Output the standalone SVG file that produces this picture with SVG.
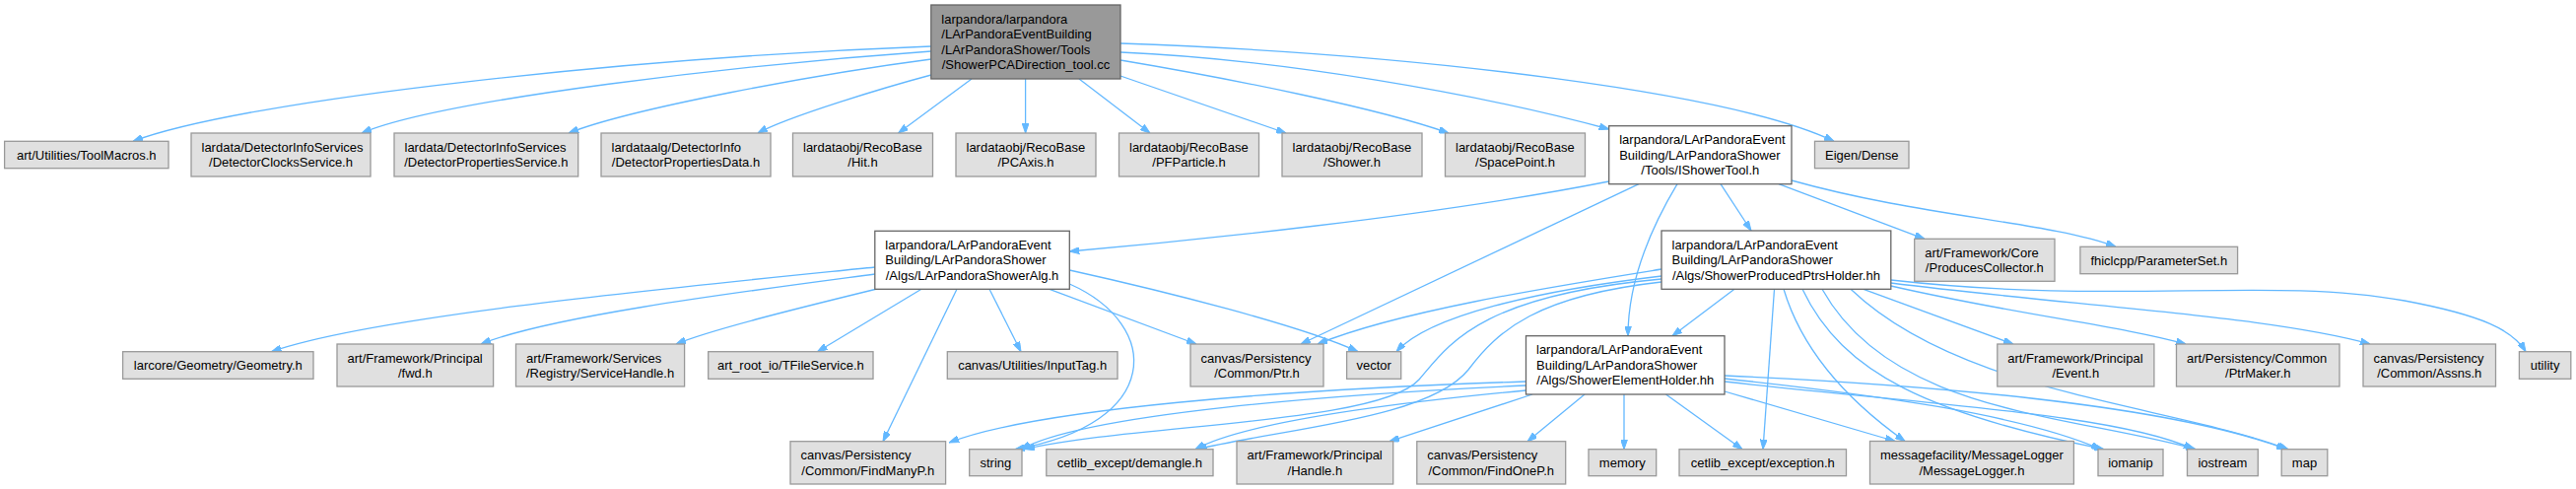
<svg xmlns="http://www.w3.org/2000/svg" width="2614" height="496" viewBox="0 0 2614 496">
<style>
.g rect{fill:#e0e0e0;stroke:#999999;stroke-width:1.3}
.w rect{fill:#ffffff;stroke:#666666;stroke-width:1.3}
.r rect{fill:#999999;stroke:#666666;stroke-width:1.3}
text{font-family:"Liberation Sans",Arial,Helvetica,sans-serif;font-size:13px;fill:#000000}
.c{text-anchor:middle}
#edges path{fill:none;stroke:#63b8ff;stroke-width:1.3;marker-end:url(#a)}
</style>
<defs>
<marker id="a" viewBox="0 0 10 7" refX="10" refY="3.5" markerWidth="10" markerHeight="7" markerUnits="userSpaceOnUse" orient="auto"><path d="M0,0L10,3.5L0,7z" fill="#63b8ff" stroke="#63b8ff" stroke-width="1"/></marker>
</defs>
<rect width="2614" height="496" fill="#ffffff"/>
<g id="edges">
<path d="M945,47 C650,58 250,100 135,143.3"/>
<path d="M945,52 C760,65 450,100 367,135"/>
<path d="M945,60 C830,75 640,110 577,135"/>
<path d="M945,76 C900,88 800,118 769,135"/>
<path d="M986,80 L911.5,135"/>
<path d="M1040.6,80 L1040.6,135"/>
<path d="M1095,80 L1167,135"/>
<path d="M1137,77 L1305,135"/>
<path d="M1137,61 C1250,80 1400,110 1470,135"/>
<path d="M1137,53 C1300,60 1500,95 1632.7,131"/>
<path d="M1137,44 C1450,55 1760,95 1861,143.3"/>
<path d="M1632.7,184 C1450,220 1200,245 1085.3,255"/>
<path d="M1663,186.7 L1320,349"/>
<path d="M1702,186.7 C1670,240 1652,290 1652,340.7"/>
<path d="M1746,186.7 L1777,234"/>
<path d="M1805,186.7 L1953,242.3"/>
<path d="M1818,183 C1950,220 2080,225 2147,250.3"/>
<path d="M887.8,271 C700,290 380,320 275.5,356.7"/>
<path d="M887.8,278 C760,295 560,320 488,349"/>
<path d="M890,293 C800,315 720,335 686,349"/>
<path d="M935,293.3 L829.5,356.7"/>
<path d="M971,293.3 L896,447.7"/>
<path d="M1004,293.3 L1036,356.7"/>
<path d="M1065,293.3 L1214,349"/>
<path d="M1085.3,274 C1180,295 1320,330 1378,356.7"/>
<path d="M1085.3,288 C1180,330 1180,430 1030,455.7"/>
<path d="M1686,273 C1580,290 1420,315 1337,349"/>
<path d="M1686,280 C1560,295 1450,320 1417,356.7"/>
<path d="M1686,283 C1500,300 1470,350 1440,385 C1400,430 1150,430 1040,455.7"/>
<path d="M1686,286 C1560,300 1520,335 1490,375 C1450,425 1300,435 1215,455.7"/>
<path d="M1760,293.3 L1697,340.7"/>
<path d="M1800.5,293.3 L1789,455.7"/>
<path d="M1810,293.3 C1830,360 1880,410 1933,447.5"/>
<path d="M1829,293.3 C1870,380 1960,420 2135,455.7"/>
<path d="M1849,293.3 C1920,420 2100,420 2228,455.7"/>
<path d="M1878,293.3 C1990,400 2200,410 2322,455.7"/>
<path d="M1891,293.3 L2043,349"/>
<path d="M1918.8,290 C2050,320 2150,330 2218,349"/>
<path d="M1918.8,287 C2100,310 2300,320 2405,349"/>
<path d="M1918.8,284 C2150,310 2300,280 2440,305 C2520,320 2550,335 2563,356.7"/>
<path d="M1548.5,387 C1300,395 1050,415 963,449"/>
<path d="M1548.5,391 C1350,400 1100,420 1036,455.7"/>
<path d="M1548.5,396 C1400,410 1260,430 1213,455.7"/>
<path d="M1555,400 L1410,447.7"/>
<path d="M1608,400 L1550,447.7"/>
<path d="M1648,400 L1648,455.7"/>
<path d="M1690.5,400 L1768,455.7"/>
<path d="M1750,397 L1923,447.5"/>
<path d="M1750,384 C1900,400 2050,420 2132,455.7"/>
<path d="M1750,387 C1950,410 2150,420 2226,455.7"/>
<path d="M1750,381 C1950,390 2200,410 2320,455.7"/>
</g>
<g id="root" class="r"><rect x="944.8" y="5" width="192.2" height="75"/><text x="955.3" y="23.5">larpandora/larpandora</text><text x="955.3" y="39">/LArPandoraEventBuilding</text><text x="955.3" y="54.5">/LArPandoraShower/Tools</text><text class="c" x="1040.9" y="70">/ShowerPCADirection_tool.cc</text></g>
<g id="n_toolmacros" class="g"><rect x="4.6" y="143.3" width="166.4" height="27.4"/><text class="c" x="87.8" y="161.6">art/Utilities/ToolMacros.h</text></g>
<g id="n_clocks" class="g"><rect x="194" y="135" width="182" height="44"/><text x="204.5" y="153.5">lardata/DetectorInfoServices</text><text class="c" x="285" y="169">/DetectorClocksService.h</text></g>
<g id="n_propservice" class="g"><rect x="400" y="135" width="186.7" height="44"/><text x="410.5" y="153.5">lardata/DetectorInfoServices</text><text class="c" x="493.35" y="169">/DetectorPropertiesService.h</text></g>
<g id="n_propdata" class="g"><rect x="610" y="135" width="172" height="44"/><text x="620.5" y="153.5">lardataalg/DetectorInfo</text><text class="c" x="696" y="169">/DetectorPropertiesData.h</text></g>
<g id="n_hit" class="g"><rect x="804.5" y="135" width="142" height="44"/><text x="815" y="153.5">lardataobj/RecoBase</text><text class="c" x="875.5" y="169">/Hit.h</text></g>
<g id="n_pcaxis" class="g"><rect x="970" y="135" width="142" height="44"/><text x="980.5" y="153.5">lardataobj/RecoBase</text><text class="c" x="1041" y="169">/PCAxis.h</text></g>
<g id="n_pfparticle" class="g"><rect x="1135.5" y="135" width="142" height="44"/><text x="1146" y="153.5">lardataobj/RecoBase</text><text class="c" x="1206.5" y="169">/PFParticle.h</text></g>
<g id="n_shower" class="g"><rect x="1301" y="135" width="142" height="44"/><text x="1311.5" y="153.5">lardataobj/RecoBase</text><text class="c" x="1372" y="169">/Shower.h</text></g>
<g id="n_spacepoint" class="g"><rect x="1466.5" y="135" width="142" height="44"/><text x="1477" y="153.5">lardataobj/RecoBase</text><text class="c" x="1537.5" y="169">/SpacePoint.h</text></g>
<g id="n_ishowertool" class="w"><rect x="1632.7" y="127.7" width="185.3" height="59"/><text x="1643.2" y="146.2">larpandora/LArPandoraEvent</text><text x="1643.2" y="161.7">Building/LArPandoraShower</text><text class="c" x="1725.35" y="177.2">/Tools/IShowerTool.h</text></g>
<g id="n_eigen" class="g"><rect x="1841.5" y="143.3" width="95.5" height="27.4"/><text class="c" x="1889.25" y="161.6">Eigen/Dense</text></g>
<g id="n_showeralg" class="w"><rect x="887.8" y="234.3" width="197.5" height="59"/><text x="898.3" y="252.8">larpandora/LArPandoraEvent</text><text x="898.3" y="268.3">Building/LArPandoraShower</text><text class="c" x="986.55" y="283.8">/Algs/LArPandoraShowerAlg.h</text></g>
<g id="n_producedptrs" class="w"><rect x="1686" y="234" width="232.8" height="59.3"/><text x="1696.5" y="252.5">larpandora/LArPandoraEvent</text><text x="1696.5" y="268">Building/LArPandoraShower</text><text class="c" x="1802.4" y="283.5">/Algs/ShowerProducedPtrsHolder.hh</text></g>
<g id="n_producescollector" class="g"><rect x="1942.7" y="242.3" width="142.3" height="43"/><text x="1953.2" y="260.8">art/Framework/Core</text><text class="c" x="2013.85" y="276.3">/ProducesCollector.h</text></g>
<g id="n_parameterset" class="g"><rect x="2110.9" y="250.3" width="159.7" height="27.4"/><text class="c" x="2190.75" y="268.6">fhiclcpp/ParameterSet.h</text></g>
<g id="n_geometry" class="g"><rect x="124.6" y="356.7" width="193.4" height="27.6"/><text class="c" x="221.3" y="375">larcore/Geometry/Geometry.h</text></g>
<g id="n_fwd" class="g"><rect x="342" y="349" width="158.6" height="43"/><text x="352.5" y="367.5">art/Framework/Principal</text><text class="c" x="421.3" y="383">/fwd.h</text></g>
<g id="n_servicehandle" class="g"><rect x="523.5" y="349" width="171.1" height="43"/><text x="534" y="367.5">art/Framework/Services</text><text class="c" x="609.05" y="383">/Registry/ServiceHandle.h</text></g>
<g id="n_tfileservice" class="g"><rect x="718.7" y="356.7" width="167.3" height="27.6"/><text class="c" x="802.35" y="375">art_root_io/TFileService.h</text></g>
<g id="n_inputtag" class="g"><rect x="961.3" y="356.7" width="172.7" height="27.6"/><text class="c" x="1047.65" y="375">canvas/Utilities/InputTag.h</text></g>
<g id="n_ptr" class="g"><rect x="1208" y="349" width="135" height="43"/><text x="1218.5" y="367.5">canvas/Persistency</text><text class="c" x="1275.5" y="383">/Common/Ptr.h</text></g>
<g id="n_vector" class="g"><rect x="1366.6" y="356.7" width="55.1" height="27.6"/><text class="c" x="1394.15" y="375">vector</text></g>
<g id="n_elementholder" class="w"><rect x="1548.5" y="340.7" width="201.5" height="59.3"/><text x="1559" y="359.2">larpandora/LArPandoraEvent</text><text x="1559" y="374.7">Building/LArPandoraShower</text><text class="c" x="1649.25" y="390.2">/Algs/ShowerElementHolder.hh</text></g>
<g id="n_event" class="g"><rect x="2026.8" y="349" width="159.1" height="43"/><text x="2037.3" y="367.5">art/Framework/Principal</text><text class="c" x="2106.35" y="383">/Event.h</text></g>
<g id="n_ptrmaker" class="g"><rect x="2208.5" y="349" width="165.5" height="43"/><text x="2219" y="367.5">art/Persistency/Common</text><text class="c" x="2291.25" y="383">/PtrMaker.h</text></g>
<g id="n_assns" class="g"><rect x="2398" y="349" width="134.5" height="43"/><text x="2408.5" y="367.5">canvas/Persistency</text><text class="c" x="2465.25" y="383">/Common/Assns.h</text></g>
<g id="n_utility" class="g"><rect x="2556.4" y="356.7" width="52.4" height="27.6"/><text class="c" x="2582.6" y="375">utility</text></g>
<g id="n_findmanyp" class="g"><rect x="802" y="447.7" width="157.6" height="43.3"/><text x="812.5" y="466.2">canvas/Persistency</text><text class="c" x="880.8" y="481.7">/Common/FindManyP.h</text></g>
<g id="n_string" class="g"><rect x="983.7" y="455.7" width="53.3" height="27"/><text class="c" x="1010.35" y="473.8">string</text></g>
<g id="n_demangle" class="g"><rect x="1061.8" y="455.7" width="169.2" height="27"/><text class="c" x="1146.4" y="473.8">cetlib_except/demangle.h</text></g>
<g id="n_handle" class="g"><rect x="1255" y="447.7" width="158.7" height="43.3"/><text x="1265.5" y="466.2">art/Framework/Principal</text><text class="c" x="1334.35" y="481.7">/Handle.h</text></g>
<g id="n_findonep" class="g"><rect x="1437.8" y="447.7" width="150.9" height="43.3"/><text x="1448.3" y="466.2">canvas/Persistency</text><text class="c" x="1513.25" y="481.7">/Common/FindOneP.h</text></g>
<g id="n_memory" class="g"><rect x="1612" y="455.7" width="68.7" height="27"/><text class="c" x="1646.35" y="473.8">memory</text></g>
<g id="n_exception" class="g"><rect x="1704" y="455.7" width="169.5" height="27"/><text class="c" x="1788.75" y="473.8">cetlib_except/exception.h</text></g>
<g id="n_messagelogger" class="g"><rect x="1897.5" y="447.5" width="206.9" height="43.5"/><text x="1908" y="466">messagefacility/MessageLogger</text><text class="c" x="2000.95" y="481.5">/MessageLogger.h</text></g>
<g id="n_iomanip" class="g"><rect x="2129" y="455.7" width="66" height="27"/><text class="c" x="2162" y="473.8">iomanip</text></g>
<g id="n_iostream" class="g"><rect x="2219.5" y="455.7" width="71.8" height="27"/><text class="c" x="2255.4" y="473.8">iostream</text></g>
<g id="n_map" class="g"><rect x="2315.2" y="455.7" width="46.6" height="27"/><text class="c" x="2338.5" y="473.8">map</text></g>
</svg>
